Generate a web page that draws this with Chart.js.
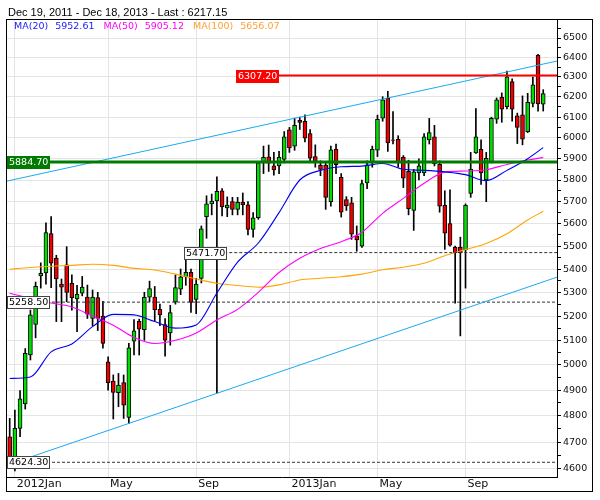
<!DOCTYPE html>
<html>
<head>
<meta charset="utf-8">
<script src="https://cdn.jsdelivr.net/npm/chart.js@4.4.1/dist/chart.umd.min.js"></script>
<style>
    html, body { margin: 0; padding: 0; background: #fff; }
</style>
</head>
<body>
<canvas id="chart" width="600" height="500"></canvas>
<script>
// weekly candles, week 0 = Dec 26 2011 ... week 103 = Dec 16 2013
const opens = [4720,4636,4752,4846,5040,5165,5370,5383,5556,5447,
    5335,5418,5338,5272,5296,5280,5190,5278,5200,5013,
    4936,4890,4930,4794,5096,5178,5144,5280,5280,5228,
    5165,5130,5259,5313,5367,5386,5270,5360,5632,5690,
    5703,5750,5672,5700,5665,5697,5686,5574,5627,5880,
    5909,5866,5866,5897,6038,5960,6085,6080,6020,5910,
    5870,5870,5700,5945,5813,5710,5695,5546,5500,5786,
    5880,5940,6095,6193,5990,5993,5906,5840,5660,5833,
    5833,5990,6005,5873,5683,5601,5495,5495,5483,5738,
    5928,5945,5800,5886,6090,6198,6152,6277,6106,6112,
    6030,6168,6411,6164];
const highs = [4790,4822,4898,5066,5225,5344,5427,5604,5632,5460,
    5357,5498,5375,5330,5368,5331,5310,5300,5262,5033,
    4960,4966,4960,5088,5185,5187,5300,5348,5325,5250,
    5190,5245,5375,5400,5448,5400,5360,5590,5727,5735,
    5815,5760,5722,5720,5720,5740,5700,5650,5885,5960,
    5965,5930,5935,6030,6050,6095,6100,6112,6040,5966,
    5890,5880,5960,5970,5830,5723,5720,5590,5800,5890,
    5960,6110,6201,6228,6127,6010,5915,5893,5850,5900,
    6020,6094,6060,5890,5750,5755,5500,5540,5690,5930,
    6142,5990,5930,6100,6195,6220,6330,6290,6120,6205,
    6218,6300,6415,6236];
const lows = [4612,4592,4720,4826,5020,5110,5318,5335,5320,5177,
    5177,5260,5225,5135,5285,5190,5160,5140,5068,4900,
    4788,4835,4790,4770,5040,5040,5100,5260,5180,5160,
    5035,5080,5250,5290,5330,5215,5210,5340,5535,5640,
    4888,5635,5632,5640,5640,5640,5550,5540,5620,5830,
    5840,5823,5830,5880,5930,5940,6040,5980,5890,5860,
    5820,5665,5680,5830,5630,5660,5530,5478,5495,5760,
    5860,5910,6080,5935,5970,5860,5765,5640,5570,5800,
    5820,5970,5866,5652,5486,5500,5254,5118,5318,5720,
    5925,5780,5700,5880,6070,6075,6140,6080,5972,5966,
    6025,6150,6130,6130];
const closes = [4624.3,4752,4866,5047,5205,5326,5381,5560,5425,5357,
    5322,5300,5277,5292,5322,5208,5280,5190,5087,4929,
    4891,4920,4841,5069,5139,5146,5279,5316,5227,5205,
    5100,5215,5320,5366,5386,5258,5335,5577,5690,5703,
    5747,5676,5685,5665,5697,5686,5574,5627,5880,5907,
    5879,5847,5906,6005,5951,6060,6074,5998,5903,5887,
    5850,5719,5942,5872,5652,5682,5553,5528,5783,5871,
    5944,6090,6185,5975,5987,5881,5808,5668,5838,5866,
    6005,6025,5876,5680,5558,5505,5471,5471,5683,5851,
    6005,5833,5902,6094,6185,6139,6301,6139,6050,5993,
    6173,6260,6165,6217.15];

// moving averages at these weeks
const maWeeks = [0,4,8,12,16,20,24,28,32,36,40,44,48,52,56,60,64,68,72,76,80,84,88,92,96,100,103];
const ma20 = [4946,4952,5053,5085,5156,5207,5205,5177,5150,5163,5297,5430,5514,5650,5800,5845,5862,5865,5877,5850,5845,5838,5825,5797,5845,5900,5952.61];
const ma50 = [5296,5275,5255,5238,5200,5162,5112,5087,5100,5130,5184,5228,5300,5385,5447,5490,5520,5562,5647,5715,5785,5837,5842,5848,5873,5894,5905.12];
const ma100 = [5399,5407,5412,5416,5421,5416,5403,5396,5378,5357,5339,5329,5322,5332,5353,5360,5367,5378,5397,5408,5425,5458,5485,5512,5555,5617,5656.07];

// horizontal levels and where they start (week units)
const levelValues = [6307.2, 5884.7, 5471.7, 5258.5, 4624.3];
const levelFromWeek = [43.7, -0.52, 33.7, -0.52, -0.52];

// channel lines, value at the left and right edge
const channelWeeks = [-0.52, 105.66];
const channelUpper = [5795, 6381];
const channelLower = [4614, 5365];

const monthTicks = [1, 19, 36, 54, 71, 88];
const monthLabels = ['2012Jan', 'May', 'Sep', '2013Jan', 'May', 'Sep'];
const priceTicks = [4600,4700,4800,4900,5000,5100,5200,5300,5400,5500,5600,5700,5800,5900,6000,6100,6200,6300,6400,6500];

const xMin = channelWeeks[0], xMax = channelWeeks[1];
const last = closes.length - 1;

const levelLooks = [
    { line: '#ff0000', width: 2, dash: [], box: '#ff0000', edge: null, text: '#ffffff' },
    { line: '#007a00', width: 3, dash: [], box: '#007a00', edge: null, text: '#ffffff' },
    { line: '#333333', width: 1, dash: [3, 2], box: '#ffffff', edge: '#444444', text: '#000000' },
    { line: '#333333', width: 1, dash: [3, 2], box: '#ffffff', edge: '#444444', text: '#000000' },
    { line: '#333333', width: 1, dash: [3, 2], box: '#ffffff', edge: '#444444', text: '#000000' }
];

const maLegend = [
    { name: 'MA(20)', values: ma20, color: '#1a1aff', line: '#0000ee' },
    { name: 'MA(50)', values: ma50, color: '#ff00ff', line: '#ff00ff' },
    { name: 'MA(100)', values: ma100, color: '#ffa033', line: '#ffa500' }
];

function isUp(i) { return closes[i] >= opens[i]; }

const wickData = highs.map((h, i) => ({ x: i, y: [lows[i], h] }));
const bodyData = opens.map((o, i) => ({ x: i, y: [Math.min(o, closes[i]), Math.max(o, closes[i])] }));

function maSeries(values) {
    return maWeeks.map((w, k) => ({ x: w, y: values[k] }));
}

const datasets = [];

levelValues.forEach((v, k) => {
    const look = levelLooks[k];
    datasets.push({
        type: 'line',
        data: [{ x: levelFromWeek[k], y: v }, { x: xMax, y: v }],
        borderColor: look.line,
        borderWidth: look.width,
        borderDash: look.dash,
        pointRadius: 0,
        order: k < 2 ? 1 : 3
    });
});

[channelUpper, channelLower].forEach(ch => {
    datasets.push({
        type: 'line',
        data: channelWeeks.map((w, k) => ({ x: w, y: ch[k] })),
        borderColor: '#1aaaf0',
        borderWidth: 1,
        pointRadius: 0,
        order: 2
    });
});

maLegend.forEach((m, k) => {
    datasets.push({
        type: 'line',
        data: maSeries(m.values),
        borderColor: m.line,
        borderWidth: 1.1,
        pointRadius: 0,
        cubicInterpolationMode: 'monotone',
        order: 4 + k
    });
});

datasets.push({
    type: 'bar',
    data: bodyData,
    backgroundColor: bodyData.map((d, i) => isUp(i) ? '#00dd00' : '#ee0000'),
    borderColor: '#000000',
    borderWidth: 1,
    borderSkipped: false,
    barThickness: 4,
    grouped: false,
    order: 10
});

datasets.push({
    type: 'bar',
    data: wickData,
    backgroundColor: '#000000',
    borderWidth: 0,
    barThickness: 1,
    grouped: false,
    order: 11
});

const decorations = {
    id: 'decorations',
    afterDatasetsDraw(chart) {
        const { ctx, scales: { x, y } } = chart;
        ctx.save();
        ctx.font = '9.5px "DejaVu Sans"';
        ctx.textBaseline = 'middle';
        levelValues.forEach((v, k) => {
            const look = levelLooks[k];
            const text = v.toFixed(2);
            const px = Math.round(x.getPixelForValue(levelFromWeek[k]));
            const py = Math.round(y.getPixelForValue(v));
            const w = Math.round(ctx.measureText(text).width) + 4;
            const h = 13;
            ctx.fillStyle = look.box;
            ctx.fillRect(px, py - 6, w, h);
            if (look.edge) {
                ctx.strokeStyle = look.edge;
                ctx.lineWidth = 1;
                ctx.strokeRect(px + 0.5, py - 5.5, w - 1, h - 1);
            }
            ctx.fillStyle = look.text;
            ctx.fillText(text, px + 2, py + 1);
        });
        ctx.restore();
    },
    afterDraw(chart) {
        const { ctx } = chart;
        ctx.save();
        ctx.fillStyle = '#000';
        ctx.font = '11px "Liberation Sans"';
        ctx.textBaseline = 'middle';
        ctx.fillText('Dec 19, 2011 - Dec 18, 2013 - Last : ' + closes[last].toFixed(2), 8, 13);

        ctx.font = '9.5px "DejaVu Sans"';
        let lx = 14;
        maLegend.forEach(m => {
            ctx.fillStyle = m.color;
            ctx.fillText(m.name, lx, 27);
            lx += ctx.measureText(m.name).width + 7;
            const val = m.values[m.values.length - 1].toFixed(2);
            ctx.fillText(val, lx, 27);
            lx += ctx.measureText(val).width + 9;
        });

        ctx.strokeStyle = '#000';
        ctx.lineWidth = 1;
        ctx.strokeRect(6.5, 19.5, 586, 472);
        ctx.restore();
    }
};

new Chart(document.getElementById('chart'), {
    type: 'bar',
    data: { datasets: datasets },
    plugins: [decorations],
    options: {
        responsive: false,
        animation: false,
        layout: { padding: { left: 7, right: 7, top: 19, bottom: 8 } },
        plugins: {
            legend: { display: false },
            tooltip: { enabled: false }
        },
        scales: {
            x: {
                type: 'linear',
                offset: false,
                min: xMin,
                max: xMax,
                bounds: 'data',
                afterBuildTicks: scale => { scale.ticks = monthTicks.map(v => ({ value: v })); },
                afterFit: scale => { scale.height = 15; },
                grid: { color: '#e4e4e4', drawTicks: false, offset: false },
                border: { color: '#000000' },
                ticks: {
                    autoSkip: false,
                    maxRotation: 0,
                    align: 'start',
                    labelOffset: 2,
                    padding: 1,
                    color: '#111111',
                    font: { family: 'DejaVu Sans', size: 11 },
                    callback: (v, idx) => monthLabels[idx]
                }
            },
            y: {
                type: 'logarithmic',
                position: 'right',
                min: 4570,
                max: 6600,
                bounds: 'data',
                afterBuildTicks: scale => {
                    const t = [];
                    priceTicks.forEach(p => { t.push({ value: p }); if (p + 50 < 6600) t.push({ value: p + 50 }); });
                    scale.ticks = t;
                },
                afterFit: scale => { scale.width = 36; },
                grid: {
                    color: ctx => (ctx.tick && ctx.tick.value % 100 === 0) ? '#e4e4e4' : 'rgba(0,0,0,0)',
                    tickColor: '#000000',
                    tickLength: 4
                },
                border: { color: '#000000' },
                ticks: {
                    autoSkip: false,
                    padding: 2,
                    color: '#111111',
                    font: { family: 'DejaVu Sans', size: 9.5 },
                    callback: v => (v % 100 === 0 ? String(v) : '')
                }
            }
        }
    }
});
</script>
</body>
</html>
